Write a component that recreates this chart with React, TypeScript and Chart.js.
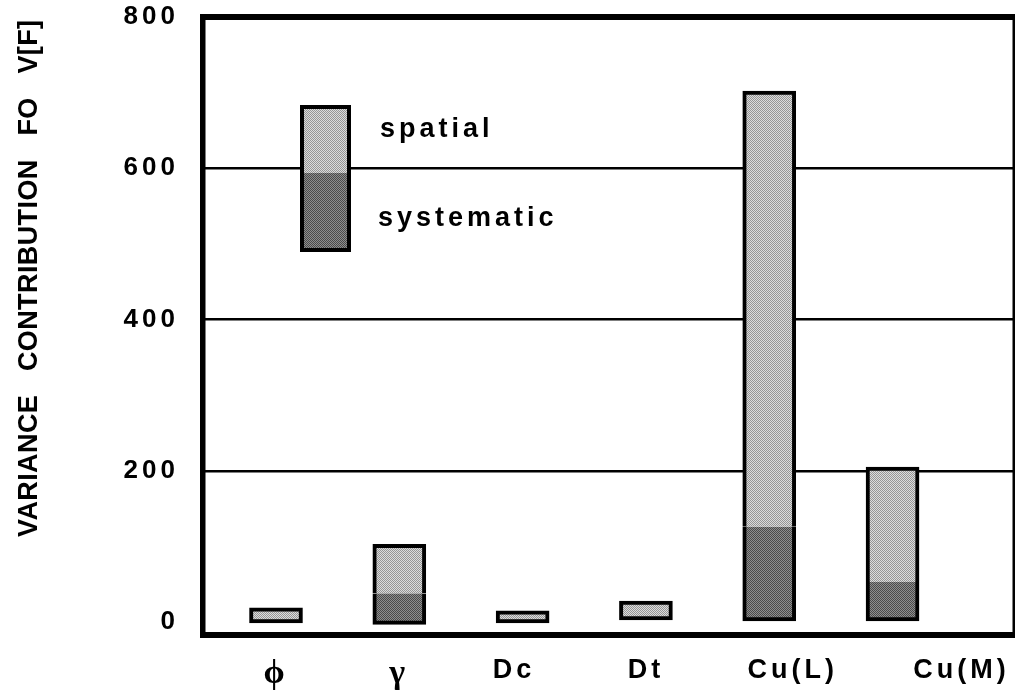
import React, { useEffect, useRef } from "react";
import { Chart, registerables } from "chart.js";

Chart.register(...registerables);

// ---------- data ----------
const categories = ["ϕ", "γ", "Dc", "Dt", "Cu(L)", "Cu(M)"];
const barStart = [-1, -3, -1, 3, 0, 0];
const systematic = [0, 41, 0, 0, 126, 53];
const spatial = [20, 65, 16, 25, 576, 152];
const yTicks = [0, 200, 400, 600, 800];
const seriesNames = ["spatial", "systematic"];
const yTitle = "VARIANCE   CONTRIBUTION   FO   V[F]";

// ---------- layout / style ----------
const LABEL_SHIFT = [0, 0, -0.07, 0, 0.19, 0.56];
const X_MIN = -0.592;
const X_MAX = 5.985;
const Y_MIN = -17;
const Y_MAX = 800;
const SANS = '"Liberation Sans", Arial, sans-serif';
const SERIF = '"Liberation Serif", "Times New Roman", serif';

function makePattern(light: string, dark: string) {
  const c = document.createElement("canvas");
  c.width = 2;
  c.height = 2;
  const g = c.getContext("2d")!;
  g.fillStyle = light;
  g.fillRect(0, 0, 2, 2);
  g.fillStyle = dark;
  g.fillRect(0, 0, 1, 1);
  g.fillRect(1, 1, 1, 1);
  return g.createPattern(c, "repeat")!;
}

export default function App() {
  const ref = useRef<HTMLCanvasElement>(null);

  useEffect(() => {
    const canvas = ref.current!;
    const spatialFill = makePattern("#dcdcdc", "#959595");
    const systematicFill = makePattern("#8e8e8e", "#4a4a4a");

    const sysData: any[] = [];
    const spaData: any[] = [];
    categories.forEach((_, i) => {
      const s0 = barStart[i];
      const s1 = s0 + systematic[i];
      if (systematic[i] > 0) sysData.push({ x: i, y: [s0, s1] });
      spaData.push({ x: i, y: [s1, s1 + spatial[i]] });
    });

    const spacingPlugin = {
      id: "spacing",
      beforeUpdate(chart: any) {
        chart.ctx.letterSpacing = "4px";
      },
      beforeDraw(chart: any) {
        chart.ctx.letterSpacing = "4px";
      },
    };

    const framePlugin = {
      id: "frameAndLegend",
      afterDraw(chart: any) {
        const ctx = chart.ctx as CanvasRenderingContext2D;
        const { left, right, top, bottom } = chart.chartArea;
        ctx.save();
        ctx.fillStyle = "#000";
        // plot frame
        ctx.fillRect(left - 3, top - 3, right - left + 3, 6);
        ctx.fillRect(left - 3, top - 3, 5.5, bottom - top + 6);
        ctx.fillRect(left - 3, bottom - 3, right - left + 3, 6);
        ctx.fillRect(right - 1.5, top - 3, 2.5, bottom - top + 6);

        // legend box
        const bx = 300, bw = 51, by = 105, bm = 173, bb = 252, bwid = 4;
        ctx.fillStyle = "#000";
        ctx.fillRect(bx, by, bw, bb - by);
        ctx.fillStyle = spatialFill;
        ctx.fillRect(bx + bwid, by + bwid, bw - 2 * bwid, bm - by - bwid);
        ctx.fillStyle = systematicFill;
        ctx.fillRect(bx + bwid, bm, bw - 2 * bwid, bb - bm - bwid);

        ctx.fillStyle = "#000";
        ctx.font = `bold 27px ${SANS}`;
        (ctx as any).letterSpacing = "4px";
        ctx.textAlign = "left";
        ctx.textBaseline = "alphabetic";
        ctx.fillText(seriesNames[0], 380, 137);
        ctx.fillText(seriesNames[1], 378, 226);

        // y-axis title
        ctx.translate(37, 537);
        ctx.rotate(-Math.PI / 2);
        (ctx as any).letterSpacing = "0.4px";
        ctx.font = `bold 27px ${SANS}`;
        ctx.fillText(yTitle, 0, 0);
        ctx.restore();
      },
    };

    const chart = new Chart(canvas, {
      type: "bar",
      data: {
        datasets: [
          {
            label: seriesNames[1],
            data: sysData,
            backgroundColor: systematicFill,
            borderColor: "#000",
            borderWidth: 4,
            borderSkipped: "top",
            grouped: false,
            barThickness: 53,
          } as any,
          {
            label: seriesNames[0],
            data: spaData,
            backgroundColor: spatialFill,
            borderColor: "#000",
            borderWidth: 4,
            borderSkipped: (c: any) =>
              systematic[c.raw ? c.raw.x : 0] > 0 ? "bottom" : false,
            grouped: false,
            barThickness: 53,
          } as any,
        ],
      },
      options: {
        responsive: false,
        animation: false,
        layout: { padding: { top: 17, right: 2, left: 0, bottom: 0 } },
        plugins: {
          legend: { display: false },
          tooltip: { enabled: false },
          title: { display: false },
        },
        scales: {
          x: {
            type: "linear",
            min: X_MIN,
            max: X_MAX,
            offset: false,
            grid: { display: false, offset: false, drawTicks: false },
            border: { display: false },
            afterBuildTicks: (scale: any) => {
              scale.ticks = categories.map((_, i) => ({ value: i + LABEL_SHIFT[i] }));
            },
            afterFit: (scale: any) => {
              scale.height = 59;
              scale.paddingLeft = 0;
              scale.paddingRight = 0;
            },
            ticks: {
              autoSkip: false,
              maxRotation: 0,
              minRotation: 0,
              padding: 19,
              color: "#000",
              callback: (_v: any, idx: number) => categories[idx],
              font: (c: any) =>
                c.index < 2
                  ? { family: SERIF, size: 34, weight: "bold" }
                  : { family: SANS, size: 27, weight: "bold" },
            },
          } as any,
          y: {
            type: "linear",
            min: Y_MIN,
            max: Y_MAX,
            afterBuildTicks: (scale: any) => {
              scale.ticks = yTicks.map((v) => ({ value: v }));
            },
            afterFit: (scale: any) => {
              scale.width = 203;
              scale.paddingTop = 0;
              scale.paddingBottom = 0;
            },
            grid: {
              drawTicks: false,
              lineWidth: 2.5,
              color: (c: any) =>
                c.tick && (c.tick.value === 0 || c.tick.value === Y_MAX)
                  ? "rgba(0,0,0,0)"
                  : "#000",
            },
            border: { display: false },
            ticks: {
              padding: 24,
              color: "#000",
              font: { family: SANS, size: 26, weight: "bold" },
            },
          } as any,
        },
      },
      plugins: [spacingPlugin, framePlugin],
    });

    return () => chart.destroy();
  }, []);

  return (
    <div
      style={{
        position: "fixed",
        left: 0,
        top: 0,
        width: 1016,
        height: 694,
        background: "#fff",
      }}
    >
      <canvas ref={ref} width={1016} height={694} style={{ display: "block" }} />
    </div>
  );
}
